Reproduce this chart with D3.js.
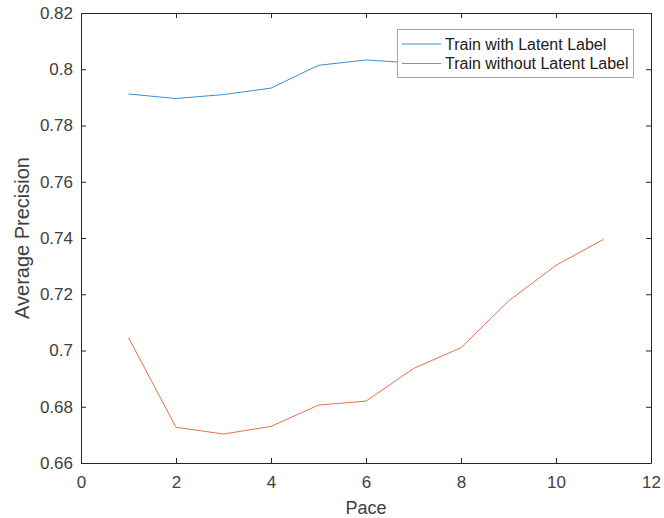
<!DOCTYPE html>
<html>
<head>
<meta charset="utf-8">
<script src="https://cdn.jsdelivr.net/npm/d3@7"></script>
<style>
  body { margin: 0; background: #fff; }
  text { font-family: "Liberation Sans", Arial, sans-serif; }
</style>
</head>
<body>
<script>
// Data
const pace = [1, 2, 3, 4, 5, 6, 7, 8, 9, 10, 11];
const withLatent = [0.7912, 0.7896, 0.7910, 0.7933, 0.8014, 0.8033, 0.8022, 0.8040, 0.8050, 0.8060, 0.8070];
const withoutLatent = [0.7046, 0.6727, 0.6703, 0.6730, 0.6806, 0.6820, 0.6936, 0.7010, 0.7176, 0.7303, 0.7395];
const seriesNames = ["Train with Latent Label", "Train without Latent Label"];
const xTicks = [0, 2, 4, 6, 8, 10, 12];
const yTicks = [0.66, 0.68, 0.7, 0.72, 0.74, 0.76, 0.78, 0.8, 0.82];

const colors = ["#3b8fd0", "#e0744a"];

// Canvas config
const config = { width: 664, height: 518 };
const margin = { left: 81, right: 13, top: 13, bottom: 55 };

const svg = d3
  .select("body")
  .append("svg")
  .attr("width", config.width)
  .attr("height", config.height);

const x = d3.scaleLinear().domain([0, 12]).range([margin.left, config.width - margin.right]);
const y = d3.scaleLinear().domain([0.66, 0.82]).range([config.height - margin.bottom, margin.top]);

const axisColor = "#262626";
const tickLen = 5;

// Lines
const line = d3.line().x((d, i) => x(pace[i])).y(d => y(d));
[withLatent, withoutLatent].forEach((s, i) => {
  svg.append("path")
    .datum(s)
    .attr("fill", "none")
    .attr("stroke", colors[i])
    .attr("stroke-width", 1)
    .attr("d", line);
});

// Axes (MATLAB style: ticks inward, box on)
const axisBottomG = svg.append("g").attr("transform", `translate(0,${y(0.66)})`)
  .call(d3.axisBottom(x).tickValues(xTicks).tickSizeInner(-tickLen).tickSizeOuter(0).tickPadding(13).tickFormat(d3.format("d")));
const axisTopG = svg.append("g").attr("transform", `translate(0,${y(0.82)})`)
  .call(d3.axisTop(x).tickValues(xTicks).tickSizeInner(-tickLen).tickSizeOuter(0).tickFormat(""));
const axisLeftG = svg.append("g").attr("transform", `translate(${x(0)},0)`)
  .call(d3.axisLeft(y).tickValues(yTicks).tickSizeInner(-tickLen).tickSizeOuter(0).tickPadding(8).tickFormat(d => String(+d.toFixed(2))));
const axisRightG = svg.append("g").attr("transform", `translate(${x(12)},0)`)
  .call(d3.axisRight(y).tickValues(yTicks).tickSizeInner(-tickLen).tickSizeOuter(0).tickFormat(""));

[axisBottomG, axisTopG, axisLeftG, axisRightG].forEach(g => {
  g.select(".domain").attr("stroke", axisColor).attr("stroke-width", 1);
  g.selectAll(".tick line").attr("stroke", axisColor);
  g.selectAll(".tick text")
    .attr("fill", "#404040")
    .style("font-size", "17px")
    .style("font-family", "'Liberation Sans', Arial, sans-serif");
});

// Axis labels
svg.append("text")
  .attr("x", (x(0) + x(12)) / 2)
  .attr("y", 514)
  .attr("text-anchor", "middle")
  .attr("fill", "#404040")
  .style("font-size", "18px")
  .text("Pace");

svg.append("text")
  .attr("transform", `translate(29,${(y(0.66) + y(0.82)) / 2}) rotate(-90)`)
  .attr("text-anchor", "middle")
  .attr("fill", "#404040")
  .style("font-size", "20px")
  .text("Average Precision");

// Legend
const legend = svg.append("g").attr("id", "legend");
legend.append("rect")
  .attr("x", 397.5)
  .attr("y", 29.5)
  .attr("width", 236)
  .attr("height", 48)
  .attr("fill", "#fff")
  .attr("stroke", "#a8a8a8");

seriesNames.forEach((name, i) => {
  const cy = 44 + i * 19.5;
  legend.append("line")
    .attr("x1", 402).attr("x2", 441)
    .attr("y1", cy).attr("y2", cy)
    .attr("stroke", colors[i]);
  legend.append("text")
    .attr("x", 445)
    .attr("y", cy)
    .attr("dy", "0.35em")
    .attr("fill", "#202020")
    .style("font-size", "16px")
    .text(name);
});
</script>
</body>
</html>
